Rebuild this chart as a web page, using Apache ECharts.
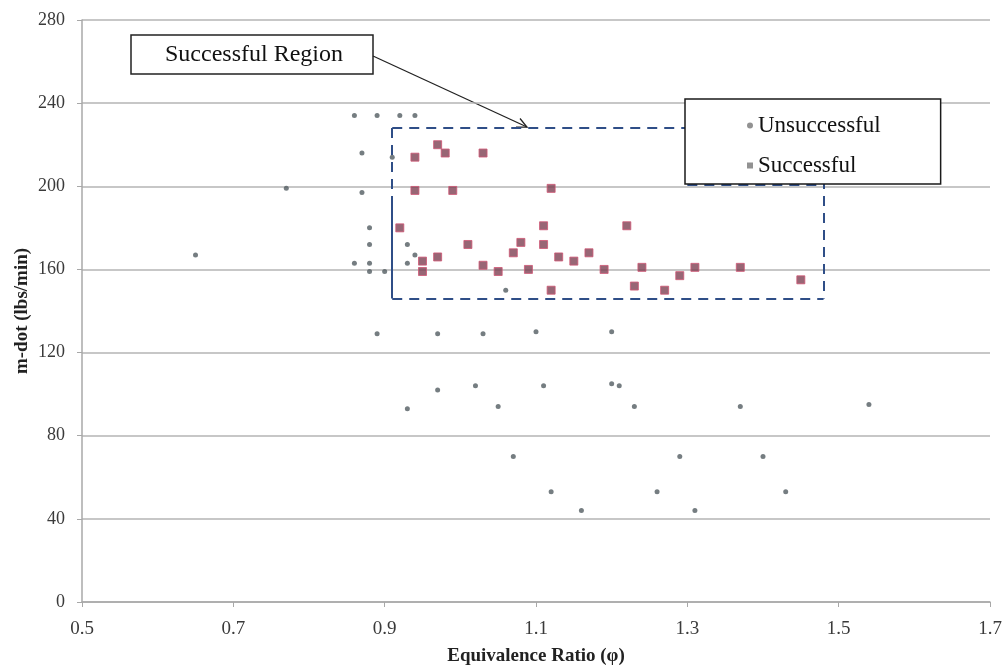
<!DOCTYPE html>
<html>
<head>
<meta charset="utf-8">
<script src="https://cdn.jsdelivr.net/npm/echarts@6/dist/echarts.min.js"></script>
<style>
html, body { margin: 0; padding: 0; background: #fff; }
#chart { width: 1008px; height: 669px; }
</style>
</head>
<body>
<div id="chart"></div>
<script>
// unsuccessful runs
let failPhi = [0.65, 0.77, 0.86, 0.89, 0.92, 0.94, 0.87, 0.91, 0.87, 0.88, 0.88, 0.86, 0.88, 0.88, 0.90, 0.93, 0.94, 0.93, 1.06,
    0.89, 0.97, 1.03, 1.10, 1.20, 0.97, 1.02, 1.11, 1.20, 1.21, 0.93, 1.05, 1.23, 1.37, 1.54, 1.07, 1.29, 1.40, 1.12, 1.26, 1.43, 1.16, 1.31]
let failMdot = [167, 199, 234, 234, 234, 234, 216, 214, 197, 180, 172, 163, 163, 159, 159, 172, 167, 163, 150,
    129, 129, 129, 130, 130, 102, 104, 104, 105, 104, 93, 94, 94, 94, 95, 70, 70, 70, 53, 53, 53, 44, 44]

// successful runs
let okPhi = [0.97, 0.94, 0.98, 1.03, 0.94, 0.99, 1.12, 0.92, 1.11, 1.22, 1.01, 1.08, 1.11, 0.95, 0.95, 0.97,
    1.07, 1.13, 1.15, 1.17, 1.03, 1.05, 1.09, 1.19, 1.12, 1.24, 1.23, 1.29, 1.27, 1.31, 1.37, 1.45]
let okMdot = [220, 214, 216, 216, 198, 198, 199, 180, 181, 181, 172, 173, 172, 164, 159, 166,
    168, 166, 164, 168, 162, 159, 160, 160, 150, 161, 152, 157, 150, 161, 161, 155]

// successful region outline
let regionPhi = [0.91, 1.48]
let regionMdot = [146, 228]
let regionSolidFrom = 190.5
let regionExtra = [1.30, 1.48, 200.5]

let failData = failPhi.map((v, i) => [v, failMdot[i]])
let okData = okPhi.map((v, i) => [v, okMdot[i]])

let serif = '"Liberation Serif", "DejaVu Serif", serif'
let blue = '#2f4e87'
let dashed = { color: blue, width: 2, type: [10, 7] }
let solid = { color: blue, width: 2, type: 'solid' }

function seg(a, b, style) {
    return [{ coord: a, lineStyle: style }, { coord: b }]
}

let [x0, x1] = regionPhi
let [y0, y1] = regionMdot
let regionLines = [
    seg([x0, y1], [x1, y1], dashed),
    seg([x1, y1], [x1, y0], dashed),
    seg([x0, y0], [x1, y0], dashed),
    seg([x0, y1], [x0, regionSolidFrom], dashed),
    seg([x0, regionSolidFrom], [x0, y0], solid),
    seg([regionExtra[0], regionExtra[2]], [regionExtra[1], regionExtra[2]], dashed)
]

// callout arrow (pixel layout)
let arrowFrom = [373, 56]
let arrowTo = [527, 127]
let ang = Math.atan2(arrowTo[1] - arrowFrom[1], arrowTo[0] - arrowFrom[0])
function headPt(da) {
    return [arrowTo[0] - 11 * Math.cos(ang + da), arrowTo[1] - 11 * Math.sin(ang + da)]
}

let option = {
    animation: false,
    backgroundColor: '#fff',
    grid: { left: 82, right: 18, top: 20, bottom: 67, outerBoundsMode: 'none' },
    xAxis: {
        type: 'value',
        min: 0.5,
        max: 1.7,
        interval: 0.2,
        name: 'Equivalence Ratio (φ)',
        nameLocation: 'middle',
        nameGap: 45,
        nameMoveOverlap: false,
        nameTextStyle: { fontFamily: serif, fontWeight: 'bold', fontSize: 19, color: '#222' },
        axisLine: { lineStyle: { color: '#a8a8a8', width: 1.5 } },
        axisTick: { show: true, length: 5, lineStyle: { color: '#a8a8a8' } },
        axisLabel: {
            fontFamily: serif, fontSize: 19, color: '#3a3a3a', margin: 18,
            formatter: v => v.toFixed(1)
        },
        splitLine: { show: false }
    },
    yAxis: {
        type: 'value',
        min: 0,
        max: 280,
        interval: 40,
        name: 'm-dot (lbs/min)',
        nameLocation: 'middle',
        nameGap: 50,
        nameMoveOverlap: false,
        nameTextStyle: { fontFamily: serif, fontWeight: 'bold', fontSize: 19, color: '#222' },
        axisLine: { show: true, lineStyle: { color: '#a8a8a8', width: 1.5 } },
        axisTick: { show: true, length: 5, lineStyle: { color: '#a8a8a8' } },
        axisLabel: { fontFamily: serif, fontSize: 18, color: '#3a3a3a', margin: 17 },
        splitLine: { lineStyle: { color: '#b4b4b4', width: 1.5 } }
    },
    legend: {
        orient: 'vertical',
        left: 685,
        top: 99,
        z: 20,
        padding: [15, 60, 7, 62],
        itemGap: 17,
        itemWidth: 6,
        itemHeight: 6,
        backgroundColor: '#fff',
        borderColor: '#1a1a1a',
        borderWidth: 1.5,
        textStyle: { fontFamily: serif, fontSize: 23, lineHeight: 23, color: '#111' },
        data: [
            { name: 'Unsuccessful', icon: 'circle', itemStyle: { color: '#777', borderWidth: 0 } },
            { name: 'Successful', icon: 'rect', itemStyle: { color: '#777', borderWidth: 0 } }
        ]
    },
    series: [
        {
            name: 'Unsuccessful',
            type: 'scatter',
            symbol: 'circle',
            symbolSize: 5,
            itemStyle: { color: '#535c62' },
            data: failData
        },
        {
            name: 'Successful',
            type: 'scatter',
            symbol: 'rect',
            symbolSize: 8,
            itemStyle: { color: '#7e4052', borderColor: '#cf5674', borderWidth: 1 },
            data: okData,
            markLine: {
                silent: true,
                symbol: ['none', 'none'],
                label: { show: false },
                emphasis: { disabled: true },
                data: regionLines
            }
        }
    ],
    graphic: [
        {
            type: 'group',
            z: 100,
            children: [
                {
                    type: 'rect',
                    shape: { x: 131, y: 35, width: 242, height: 39 },
                    style: { fill: '#fff', stroke: '#222', lineWidth: 1.5 }
                },
                {
                    type: 'text',
                    x: 254, y: 55,
                    style: {
                        text: 'Successful Region', fontFamily: serif, fontSize: 24, fill: '#111',
                        align: 'center', verticalAlign: 'middle'
                    }
                },
                {
                    type: 'line',
                    shape: { x1: arrowFrom[0], y1: arrowFrom[1], x2: arrowTo[0], y2: arrowTo[1] },
                    style: { stroke: '#222', lineWidth: 1.3 }
                },
                {
                    type: 'polyline',
                    shape: { points: [headPt(0.45), arrowTo, headPt(-0.45)] },
                    style: { stroke: '#222', lineWidth: 1.3, fill: null }
                }
            ]
        }
    ]
}

let myChart = echarts.init(document.getElementById('chart'))
myChart.setOption(option)
</script>
</body>
</html>
